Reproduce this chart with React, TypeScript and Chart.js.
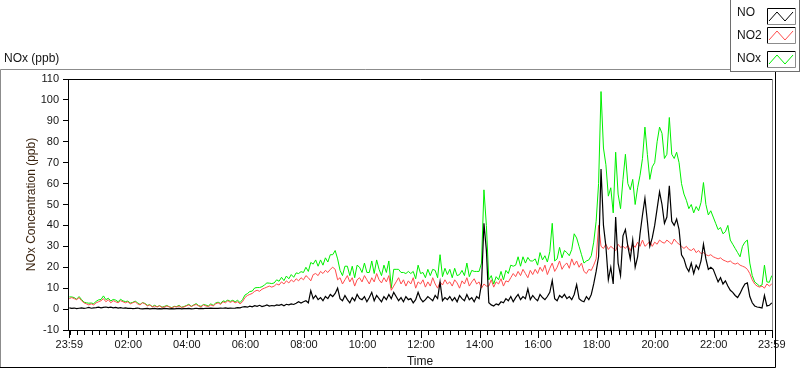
import React, { useEffect, useRef } from "react";
import { Chart, registerables } from "chart.js";

Chart.register(...registerables);

// ---------------- data (5-minute samples, 23:59 -> 23:59) ----------------
const SAMPLE_MINUTES = 5;

const NO_PPB = [
  0.6, 0.3, 0.5, 0.2, 0.4, 0.6, 0.3, 0.5, 0.8, 0.4, 0.6, 0.7,
  0.9, 0.6, 0.8, 1.0, 0.7, 0.9, 0.6, 0.8, 0.5, 0.7, 0.4, 0.6,
  0.3, 0.4, 0.2, 0.3, 0.5, 0.2, 0.1, 0.2, 0.3, 0.1, 0.2, 0.3,
  0.1, 0.2, 0.1, 0.3, 0.2, 0.1, 0.2, 0.1, 0.2, 0.3, 0.1, 0.2,
  0.2, 0.3, 0.1, 0.2, 0.4, 0.2, 0.3, 0.2, 0.4, 0.3, 0.5, 0.3,
  0.4, 0.3, 0.5, 0.4, 0.6, 0.3, 0.5, 0.4, 0.5, 0.7, 0.6, 1.0,
  1.2, 0.9, 1.4, 1.1, 1.6, 1.3, 1.8, 1.2, 1.5, 2.0, 1.4, 1.7,
  1.5, 2.0, 1.8, 2.2, 1.6, 2.3, 2.0, 2.5, 2.2, 2.8, 3.5, 2.9,
  3.5, 4.0, 3.0, 8.8, 5.0, 6.5, 4.5, 5.5, 4.0, 6.0, 5.0, 7.0,
  6.0, 7.5, 10.0, 5.0, 4.0, 6.5, 4.5, 3.0, 5.5, 4.0, 7.0, 5.0,
  4.5, 6.0, 3.5, 5.5, 8.0, 4.0, 6.5, 5.0, 3.5, 6.0, 4.5, 7.0,
  5.0, 8.0, 6.0, 4.0, 5.5, 3.5, 6.0, 4.5, 5.0, 3.0, 4.5, 8.0,
  5.0, 3.5, 4.5, 6.0, 5.0, 4.0, 6.5, 5.0, 13.0, 4.0, 5.5, 4.5,
  6.0, 4.0, 5.5, 3.5, 6.5, 5.0, 4.0, 7.0, 4.5, 5.5, 3.5, 6.0,
  5.0, 12.0, 41.0, 28.0, 3.0, 2.0, 1.5, 2.5, 2.0, 3.5, 3.0, 5.0,
  4.0, 6.0, 3.5, 5.5, 7.0, 4.5, 6.0, 5.0, 9.7, 4.5, 6.5, 5.0,
  4.0, 7.0, 5.5, 4.5, 6.0, 8.0, 13.6, 5.0, 4.0, 6.5, 5.5, 7.0,
  5.0, 6.0, 4.5, 7.0, 11.7, 5.0, 4.0, 3.5, 6.0, 4.5, 7.0, 12.0,
  18, 25, 67, 40, 30, 14, 20, 12, 44, 22, 16, 35,
  38, 30, 24, 33, 20, 25, 36, 45, 53, 42, 30, 34,
  40, 48, 56, 50, 41, 44, 59, 42, 40, 43, 38, 26,
  24, 20, 18, 22, 17, 21, 19, 23, 31, 24, 19, 20,
  19, 16, 13, 15, 12, 13.5, 11, 9, 8, 6.5, 5.5, 7.5,
  10, 12, 12.5, 6, 3, 1.5, 1, 0.8, 0.5, 6.5, 1.5, 1.8,
  3,
];

const NO2_PPB = [
  5, 5.5, 5, 4.5, 5.5, 4, 3, 2.5, 2, 2.5, 2, 3,
  3.5, 4, 5, 3.5, 4.5, 3, 4, 3.5, 3, 4, 3.5, 3,
  3.5, 2.5, 3, 3.5, 2.5, 2, 3, 2.5, 1.5, 2, 1, 1.5,
  1, 1.5, 0.8, 1, 1.5, 1, 0.5, 1.2, 1, 1.5, 0.8, 1,
  1.5, 2, 1.2, 1.8, 2.2, 1.5, 1, 2, 1.5, 1.2, 2, 1.5,
  2.5, 3, 2.2, 3.5, 3, 4, 3.2, 3.8, 3, 3.5, 2.5, 3.5,
  5.5, 6.5, 7, 7.5, 8.5, 9, 8.5, 9.5, 10, 10.5, 11, 10.5,
  11, 12, 11.5, 13, 12, 13.5, 12.5, 14, 13, 14.5, 13.5, 15,
  14, 16, 15, 13.5, 16.5, 17, 16, 18, 17, 18.5, 17.5, 19,
  20, 19, 14, 15, 12, 14, 16, 13, 15, 11, 14, 15,
  13, 16, 14, 12, 15, 13, 17, 14, 12.5, 15, 13, 16,
  9, 11, 13, 15, 12, 14, 11, 13.5, 12, 15, 10, 13,
  12, 14, 10.5, 13, 11, 15, 12, 10, 13, 11.5, 14, 12,
  13, 11, 14, 12.5, 10, 13.5, 12, 15, 11, 13, 14.5, 12,
  13, 10, 12, 11, 11, 14, 10.5, 13, 12, 14.5, 11, 13.5,
  13, 15, 17, 15.5, 18, 16, 19, 17, 15, 18.5, 16.5, 19,
  17, 20, 18, 21, 16.5, 19.5, 22, 18, 20, 23, 19, 21,
  22, 19.5, 24, 21, 23, 20, 22, 18, 17, 19, 18.5, 21,
  24, 40, 30, 29, 31, 28.5, 30, 29, 28, 31, 29.5, 30,
  29, 30.5, 28, 31, 29.5, 32, 30, 33, 30, 31, 32.5, 30,
  32, 31, 33, 32, 31.5, 33, 32, 31, 33.5, 32, 31, 30,
  29, 30, 28.5, 28, 29, 27, 28, 26.5, 27, 26, 25.5, 26,
  25, 24.5, 24, 24.5, 23.5, 23, 22.5, 23, 22, 21.5, 22, 21,
  20.5, 20, 19, 17, 14, 12, 11, 10.5, 11, 10, 12, 11,
  12,
];

const NOX_PPB = [
  5.8, 5.8, 5.5, 4.7, 6, 4.6, 3.3, 3, 2.8, 2.9, 2.6, 3.7,
  4.4, 4.6, 6.3, 4.5, 5.2, 3.9, 4.6, 4.3, 3.5, 4.7, 3.9, 3.6,
  3.8, 2.9, 3.2, 3.8, 3, 2.2, 3.1, 2.7, 1.8, 2.1, 1.2, 1.8,
  1.1, 1.7, 0.9, 1.3, 1.7, 1.1, 0.7, 1.3, 1.2, 1.8, 0.9, 1.2,
  1.7, 2.3, 1.3, 2, 2.6, 1.7, 1.3, 2.2, 1.9, 1.5, 2.5, 1.8,
  2.9, 3.3, 2.7, 3.9, 3.6, 4.3, 3.7, 4.2, 3.5, 4.2, 3.1, 4.5,
  6.7, 7.4, 8.4, 8.6, 10.1, 10.3, 10.3, 10.7, 11.5, 12.5, 12.4, 12.2,
  12.5, 14, 13.3, 15.2, 13.6, 15.8, 14.5, 16.5, 15.2, 17.3, 17, 17.9,
  17.5, 20, 18, 22.3, 21.5, 23.5, 20.5, 23.5, 21, 24.5, 22.5, 26,
  26, 28, 24, 18.5, 16, 20.5, 20.5, 16, 20.5, 15, 21, 20,
  17.5, 22, 17.5, 17.5, 23, 17, 23.5, 19, 16, 21, 17.5, 23,
  10, 19, 19, 19, 17.5, 17.5, 17, 18, 17, 18, 14.5, 21,
  17, 17.5, 15, 19, 16, 19, 18.5, 15, 26, 15.5, 19.5, 16.5,
  19, 15, 19.5, 16, 16.5, 18.5, 16, 22, 15.5, 18.5, 18, 18,
  18, 22, 57, 40, 14, 16, 12, 15.5, 14, 18, 14, 18.5,
  17, 21, 20.5, 21, 25, 20.5, 25, 22, 24.7, 23, 23, 24,
  21, 27, 23.5, 25.5, 22.5, 27.5, 41, 23, 24, 29.5, 24.5, 28,
  27, 25.5, 28.5, 36, 34, 30, 26, 22, 23, 23.5, 25.5, 32,
  42, 60, 104, 77, 69, 54, 58, 46, 75, 55, 48, 62,
  74, 60, 57, 62, 50, 58, 64, 72, 87, 74, 62, 68,
  70, 80, 87, 84, 72, 74, 91.6, 74, 72, 75, 70, 60,
  55, 52, 48, 50, 46, 49, 47, 51, 60.5, 50, 45, 47,
  44, 41, 38, 39, 36, 37, 40, 33, 31, 29, 27, 25,
  30, 32, 33, 22, 16, 13, 12, 11, 11.5, 21, 13, 12.8,
  16,
];

const SERIES_LABELS = ["NO", "NO2", "NOx"];
const SERIES_COLORS = ["#000000", "#ff4d4d", "#00f000"];

const X_TICK_LABELS = ["23:59", "02:00", "04:00", "06:00", "08:00", "10:00", "12:00", "14:00", "16:00", "18:00", "20:00", "22:00", "23:59"];
const X_TICK_MINUTES = [0, 121, 241, 361, 481, 601, 721, 841, 961, 1081, 1201, 1321, 1440];
const MINOR_TICK_STEP = 15;

const Y_MIN = -10;
const Y_MAX = 110;
const Y_STEP = 10;

const CHART_TITLE = "NOx (ppb)";
const Y_TITLE = "NOx Concentration (ppb)";
const X_TITLE = "Time";

const FONT_FAMILY = '"Liberation Sans", Arial, sans-serif';
const TEXT_COLOR = "#141414";

// ---------------- component ----------------
export default function App() {
  const canvasRef = useRef<HTMLCanvasElement | null>(null);

  useEffect(() => {
    if (!canvasRef.current) return;

    const toPoints = (arr: number[]) => arr.map((v, i) => ({ x: i * SAMPLE_MINUTES, y: v }));
    const seriesValues = [NO_PPB, NO2_PPB, NOX_PPB];

    const labelMap = new Map<number, string>();
    X_TICK_MINUTES.forEach((m, i) => labelMap.set(m, X_TICK_LABELS[i]));
    const allTicks: number[] = [0];
    for (let m = 1; m <= 1440; m += MINOR_TICK_STEP) allTicks.push(m);
    allTicks.push(1440);

    const decorPlugin = {
      id: "decor",
      beforeDraw(chart: any) {
        const ctx = chart.ctx;
        ctx.save();
        ctx.fillStyle = "#ffffff";
        ctx.fillRect(0, 0, chart.width, chart.height);
        ctx.restore();
      },
      afterDraw(chart: any) {
        const ctx = chart.ctx as CanvasRenderingContext2D;
        const ca = chart.chartArea;
        ctx.save();
        ctx.lineWidth = 1;

        // outer panel frame
        ctx.strokeStyle = "#8c8c8c";
        ctx.beginPath();
        ctx.moveTo(0.5, 367);
        ctx.lineTo(0.5, 69.5);
        ctx.lineTo(730, 69.5);
        ctx.stroke();
        ctx.strokeStyle = "#000000";
        ctx.beginPath();
        ctx.moveTo(0, 367.5);
        ctx.lineTo(775.5, 367.5);
        ctx.lineTo(775.5, 72);
        ctx.stroke();

        // plot area top & right edges
        const top = Math.round(ca.top) + 0.5;
        const right = Math.round(ca.right) + 0.5;
        ctx.strokeStyle = "#000000";
        ctx.beginPath();
        ctx.moveTo(ca.left, top);
        ctx.lineTo(right, top);
        ctx.stroke();
        ctx.strokeStyle = "#8c8c8c";
        ctx.beginPath();
        ctx.moveTo(right, top);
        ctx.lineTo(right, ca.bottom);
        ctx.stroke();

        // x tick marks (major + minor)
        const xs = chart.scales.x;
        ctx.strokeStyle = "#000000";
        const yb = Math.round(ca.bottom);
        xs.ticks.forEach((t: any) => {
          const px = Math.round(xs.getPixelForValue(t.value)) + 0.5;
          const major = labelMap.has(t.value);
          ctx.beginPath();
          ctx.moveTo(px, yb);
          ctx.lineTo(px, yb + (major ? 8 : 5));
          ctx.stroke();
        });

        // chart title
        ctx.fillStyle = TEXT_COLOR;
        ctx.font = `12px ${FONT_FAMILY}`;
        ctx.textAlign = "left";
        ctx.textBaseline = "middle";
        ctx.fillText(CHART_TITLE, 4, 58.5);

        // legend box
        ctx.fillStyle = "#ffffff";
        ctx.fillRect(730, 0, 70, 72);
        ctx.strokeStyle = "#6e6e6e";
        ctx.strokeRect(730.5, -0.5, 69, 72);
        const rowY = [12.5, 36, 59];
        const boxY = [8, 27, 51];
        chart.data.datasets.forEach((ds: any, i: number) => {
          ctx.fillStyle = TEXT_COLOR;
          ctx.font = `12px ${FONT_FAMILY}`;
          ctx.textAlign = "left";
          ctx.textBaseline = "middle";
          ctx.fillText(ds.label, 737, rowY[i]);
          const bx = 767, by = boxY[i], bw = 28, bh = 16;
          ctx.strokeStyle = "#000000";
          ctx.beginPath();
          ctx.moveTo(bx + 0.5, by + bh);
          ctx.lineTo(bx + 0.5, by + 0.5);
          ctx.lineTo(bx + bw, by + 0.5);
          ctx.stroke();
          ctx.strokeStyle = "#8c8c8c";
          ctx.beginPath();
          ctx.moveTo(bx + bw + 0.5, by);
          ctx.lineTo(bx + bw + 0.5, by + bh + 0.5);
          ctx.lineTo(bx, by + bh + 0.5);
          ctx.stroke();
          ctx.strokeStyle = ds.borderColor;
          ctx.beginPath();
          ctx.moveTo(bx + 2, by + bh - 3);
          ctx.lineTo(bx + 10, by + 4);
          ctx.lineTo(bx + 18, by + bh - 3);
          ctx.lineTo(bx + 26, by + 4);
          ctx.stroke();
        });

        ctx.restore();
      },
    };

    const chart = new Chart(canvasRef.current, {
      type: "line",
      data: {
        datasets: SERIES_LABELS.map((label, i) => ({
          label,
          data: toPoints(seriesValues[i]),
          borderColor: SERIES_COLORS[i],
          backgroundColor: SERIES_COLORS[i],
          borderWidth: i === 0 ? 1.2 : 1,
          pointRadius: 0,
          tension: 0,
          fill: false,
        })),
      },
      options: {
        responsive: false,
        devicePixelRatio: 1,
        animation: false,
        events: [],
        layout: { padding: { top: 79, left: 0, right: 28, bottom: 0 } },
        plugins: {
          legend: { display: false },
          tooltip: { enabled: false },
          title: { display: false },
        },
        scales: {
          x: {
            type: "linear",
            min: -2.7,
            max: 1440.5,
            afterBuildTicks: (s: any) => {
              s.ticks = allTicks.map((v) => ({ value: v }));
            },
            afterFit: (s: any) => {
              s.height = 39;
              s.paddingLeft = 0;
              s.paddingRight = 0;
            },
            grid: { display: false },
            border: { display: true, color: "#000000", width: 1 },
            ticks: {
              autoSkip: false,
              maxRotation: 0,
              minRotation: 0,
              padding: 0,
              color: TEXT_COLOR,
              font: { family: FONT_FAMILY, size: 11 },
              callback: (v: any) => labelMap.get(Number(v)) ?? "",
            },
            title: {
              display: true,
              text: X_TITLE,
              color: TEXT_COLOR,
              font: { family: FONT_FAMILY, size: 12 },
              padding: { top: 0, bottom: 0 },
            },
          },
          y: {
            type: "linear",
            min: Y_MIN,
            max: Y_MAX,
            afterFit: (s: any) => {
              s.width = 68;
              s.paddingTop = 0;
              s.paddingBottom = 0;
            },
            grid: {
              display: true,
              drawOnChartArea: false,
              drawTicks: true,
              tickLength: 5,
              color: "#000000",
              tickColor: "#000000",
            },
            border: { display: true, color: "#000000", width: 1 },
            ticks: {
              stepSize: Y_STEP,
              padding: 4,
              color: TEXT_COLOR,
              font: { family: FONT_FAMILY, size: 11 },
            },
            title: {
              display: true,
              text: Y_TITLE,
              color: "#3a2410",
              font: { family: FONT_FAMILY, size: 12 },
              padding: { top: 24, bottom: 0 },
            },
          },
        },
      },
      plugins: [decorPlugin],
    } as any);

    return () => chart.destroy();
  }, []);

  return (
    <div style={{ position: "absolute", left: 0, top: 0, width: 800, height: 369, background: "#ffffff" }}>
      <canvas ref={canvasRef} width={800} height={369} style={{ display: "block", width: 800, height: 369 }} />
    </div>
  );
}
